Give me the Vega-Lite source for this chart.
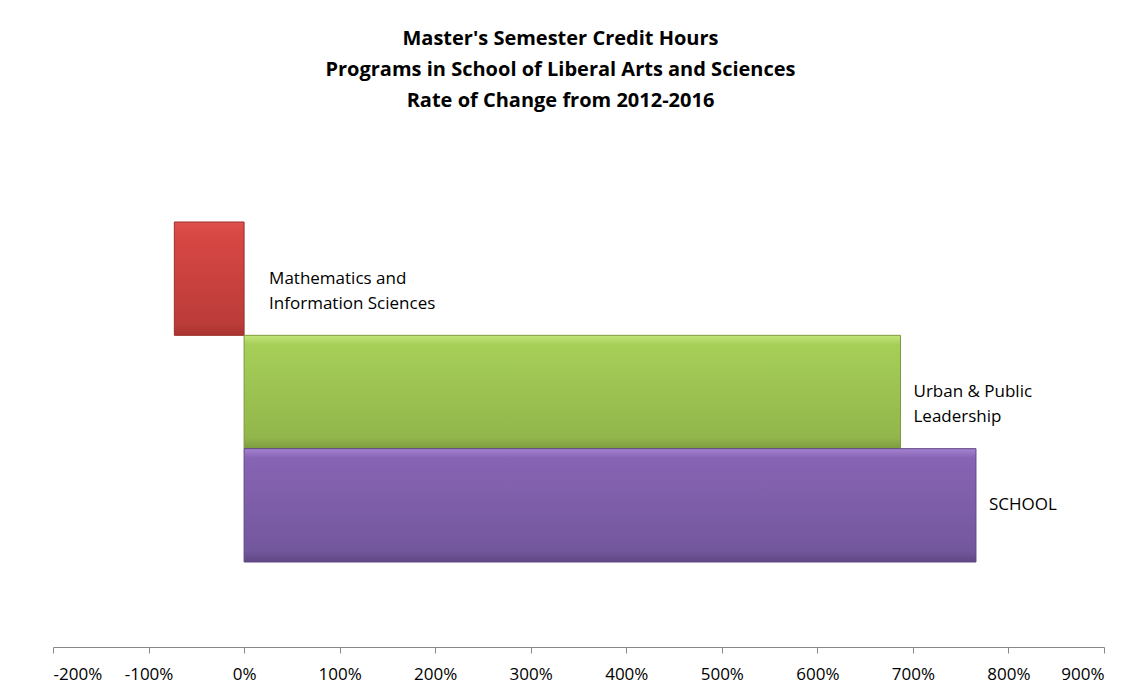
{
  "$schema": "https://vega.github.io/schema/vega-lite/v6.json",
  "autosize": "none",
  "width": 1051,
  "height": 510,
  "padding": {"left": 53, "top": 137, "right": 41, "bottom": 49},
  "background": "white",
  "title": {
    "text": ["Master's Semester Credit Hours", "Programs in School of Liberal Arts and Sciences", "Rate of Change from 2012-2016"],
    "font": "Open Sans",
    "fontSize": 20,
    "fontWeight": "bold",
    "color": "#000000",
    "lineHeight": 31,
    "anchor": "middle",
    "baseline": "bottom",
    "offset": 6,
    "dx": -18
  },
  "config": {"view": {"stroke": null}},
  "data": {
    "values": [
      {"program": "Mathematics and|Information Sciences", "rate": -0.73},
      {"program": "Urban & Public|Leadership", "rate": 6.87},
      {"program": "SCHOOL", "rate": 7.66}
    ]
  },
  "transform": [
    {"calculate": "max(datum.rate, 0)", "as": "labelAt"},
    {"calculate": "split(datum.program, '|')", "as": "labelLines"}
  ],
  "encoding": {
    "y": {
      "field": "program",
      "type": "nominal",
      "sort": null,
      "scale": {"paddingInner": 0, "paddingOuter": 0.75},
      "axis": null
    }
  },
  "layer": [
    {
      "transform": [{"filter": "datum.rate < 0"}],
      "mark": {"type": "bar", "stroke": "#9c2f2c", "strokeWidth": 1,
        "color": {"gradient": "linear", "x1": 0, "y1": 0, "x2": 0, "y2": 1,
          "stops": [{"offset": 0, "color": "#e0524e"}, {"offset": 0.1, "color": "#d84744"}, {"offset": 0.9, "color": "#bb3c39"}, {"offset": 1, "color": "#a8332f"}]}},
      "encoding": {
        "x": {"field": "rate", "type": "quantitative",
          "scale": {"domain": [-2, 9], "nice": false, "zero": false},
          "axis": {"format": ".0%", "labelExpr": "replace(datum.label, '−', '-')", "values": [-2, -1, 0, 1, 2, 3, 4, 5, 6, 7, 8, 9], "grid": false,
            "domainColor": "#888888", "tickColor": "#888888", "tickSize": 6, "labelPadding": 13,
            "labelFont": "Open Sans", "labelFontSize": 17, "labelColor": "#000000", "title": null}},
        "x2": {"datum": 0}
      }
    },
    {
      "transform": [{"filter": "datum.program == 'Urban & Public|Leadership'"}],
      "mark": {"type": "bar", "stroke": "#7e9a3e", "strokeWidth": 1,
        "color": {"gradient": "linear", "x1": 0, "y1": 0, "x2": 0, "y2": 1,
          "stops": [{"offset": 0, "color": "#c2e57a"}, {"offset": 0.08, "color": "#a6cf58"}, {"offset": 0.9, "color": "#92b64b"}, {"offset": 1, "color": "#7d9b40"}]}},
      "encoding": {
        "x": {"field": "rate", "type": "quantitative"},
        "x2": {"datum": 0}
      }
    },
    {
      "transform": [{"filter": "datum.program == 'SCHOOL'"}],
      "mark": {"type": "bar", "stroke": "#5f4784", "strokeWidth": 1,
        "color": {"gradient": "linear", "x1": 0, "y1": 0, "x2": 0, "y2": 1,
          "stops": [{"offset": 0, "color": "#a583d3"}, {"offset": 0.08, "color": "#8864b4"}, {"offset": 0.9, "color": "#73579d"}, {"offset": 1, "color": "#5f4784"}]}},
      "encoding": {
        "x": {"field": "rate", "type": "quantitative"},
        "x2": {"datum": 0}
      }
    },
    {
      "transform": [{"filter": "datum.rate < 0"}],
      "mark": {"type": "text", "align": "left", "baseline": "middle", "dx": 25, "font": "Open Sans", "fontSize": 17, "lineHeight": 25, "color": "#000000"},
      "encoding": {
        "x": {"field": "labelAt", "type": "quantitative"},
        "text": {"field": "labelLines"}
      }
    },
    {
      "transform": [{"filter": "datum.rate >= 0"}],
      "mark": {"type": "text", "align": "left", "baseline": "middle", "dx": 13, "font": "Open Sans", "fontSize": 17, "lineHeight": 25, "color": "#000000"},
      "encoding": {
        "x": {"field": "labelAt", "type": "quantitative"},
        "text": {"field": "labelLines"}
      }
    }
  ]
}
